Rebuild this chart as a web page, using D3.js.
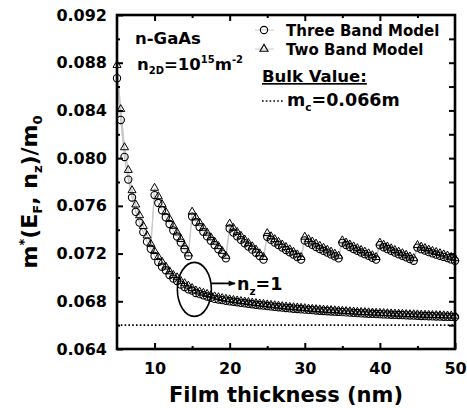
<!DOCTYPE html>
<html><head><meta charset="utf-8">
<script src="https://cdn.jsdelivr.net/npm/d3@7"></script>
<style>
html,body{margin:0;padding:0;background:#fff;}
svg{display:block;font-family:"DejaVu Sans",sans-serif;font-weight:bold;}
</style></head><body>
<svg id="chart" width="467" height="408"></svg>
<script>
// Film thickness grid (nm) for the n_z = 1 curve
const lowerThickness = [5,5.5,6,6.5,7,7.5,8,8.5,9,9.5,10,10.5,11,11.5,12,12.5,13,13.5,14,14.5,
  15,15.5,16,16.5,17,17.5,18,18.5,19,19.5,20,20.5,21,21.5,22,22.5,23,23.5,24,24.5,
  25,25.5,26,26.5,27,27.5,28,28.5,29,29.5,30,30.5,31,31.5,32,32.5,33,33.5,34,34.5,
  35,35.5,36,36.5,37,37.5,38,38.5,39,39.5,40,40.5,41,41.5,42,42.5,43,43.5,44,44.5,
  45,45.5,46,46.5,47,47.5,48,48.5,49,49.5,50];
// m*/m0, three band model, n_z = 1
const lowerThreeBand = [0.0867,0.0832,0.0801,0.0782,0.0767,0.0755,0.0746,0.0738,0.0730,0.0724,
  0.0718,0.0713,0.0709,0.0706,0.0702,0.0699,0.0697,0.0694,0.0692,0.0690,
  0.0689,0.0687,0.0686,0.0685,0.0684,0.0683,0.0682,0.06815,0.0681,0.06805,
  0.0680,0.06796,0.06792,0.06787,0.06783,0.06779,0.06775,0.06771,0.06767,0.06764,
  0.0676,0.06757,0.06753,0.0675,0.06747,0.06744,0.06741,0.06738,0.06736,0.06733,
  0.0673,0.06728,0.06726,0.06723,0.06721,0.06719,0.06717,0.06715,0.06713,0.06711,
  0.06709,0.06707,0.06705,0.06703,0.06701,0.06699,0.06698,0.06696,0.06695,0.06693,
  0.06692,0.0669,0.06689,0.06687,0.06686,0.06685,0.06684,0.06682,0.06681,0.0668,
  0.06679,0.06677,0.06676,0.06675,0.06674,0.06673,0.06672,0.06671,0.0667,0.06669,0.06668];
// m*/m0, two band model, n_z = 1
const lowerTwoBand = [0.0878,0.0841,0.0809,0.0790,0.0773,0.0761,0.0752,0.0743,0.0735,0.0728,
  0.0722,0.0717,0.0713,0.0709,0.0705,0.0702,0.0700,0.0697,0.0695,0.0693,
  0.0691,0.0689,0.0688,0.0687,0.0686,0.0685,0.0684,0.06833,0.06826,0.0682,
  0.06815,0.0681,0.06806,0.06801,0.06797,0.06793,0.06788,0.06784,0.0678,0.06777,
  0.06773,0.06769,0.06765,0.06762,0.06758,0.06755,0.06752,0.06749,0.06747,0.06744,
  0.06741,0.06738,0.06736,0.06733,0.06731,0.06729,0.06727,0.06725,0.06723,0.06721,
  0.06719,0.06717,0.06715,0.06713,0.06711,0.06709,0.06708,0.06706,0.06705,0.06703,
  0.06702,0.067,0.06699,0.06697,0.06696,0.06695,0.06694,0.06692,0.06691,0.0669,
  0.06689,0.06687,0.06686,0.06685,0.06684,0.06683,0.06682,0.06681,0.0668,0.06679,0.06678];

// Thickness grid of the upper (sawtooth) branches
const branchThickness = [
  [10,10.5,11,11.5,12,12.5,13,13.5,14,14.5],
  [15,15.5,16,16.5,17,17.5,18,18.5,19,19.5],
  [20,20.5,21,21.5,22,22.5,23,23.5,24,24.5],
  [25,25.5,26,26.5,27,27.5,28,28.5,29,29.5],
  [30,30.5,31,31.5,32,32.5,33,33.5,34,34.5],
  [35,35.5,36,36.5,37,37.5,38,38.5,39,39.5],
  [40,40.5,41,41.5,42,42.5,43,43.5,44,44.5],
  [45,45.5,46,46.5,47,47.5,48,48.5,49,49.5,50]];
const branchThreeBand = [
  [0.0769,0.07624,0.07563,0.07504,0.07448,0.07394,0.07343,0.07292,0.07236,0.0718],
  [0.0751,0.07465,0.07423,0.07382,0.07344,0.07307,0.07272,0.07237,0.07199,0.0716],
  [0.0741,0.07376,0.07345,0.07315,0.07287,0.07259,0.07233,0.07207,0.07179,0.0715],
  [0.0734,0.07315,0.07293,0.07271,0.0725,0.0723,0.07211,0.07192,0.07171,0.0715],
  [0.0731,0.07291,0.07273,0.07255,0.07239,0.07223,0.07208,0.07193,0.07177,0.0716],
  [0.0729,0.07272,0.07255,0.07239,0.07224,0.07209,0.07195,0.07181,0.07165,0.0715],
  [0.0727,0.07253,0.07238,0.07223,0.07208,0.07195,0.07182,0.07169,0.07154,0.0714],
  [0.0725,0.07237,0.07225,0.07213,0.07202,0.07192,0.07182,0.07172,0.07162,0.07151,0.0714]];
const branchTwoBand = [
  [0.0775,0.07679,0.07613,0.07549,0.07489,0.07431,0.07376,0.07321,0.07261,0.0720],
  [0.0755,0.07502,0.07458,0.07415,0.07374,0.07335,0.07298,0.07261,0.07221,0.0718],
  [0.0745,0.07414,0.0738,0.07348,0.07317,0.07288,0.0726,0.07232,0.07201,0.0717],
  [0.0737,0.07344,0.0732,0.07297,0.07275,0.07254,0.07234,0.07214,0.07192,0.0717],
  [0.0734,0.07319,0.073,0.07282,0.07264,0.07247,0.07231,0.07215,0.07198,0.0718],
  [0.0731,0.07292,0.07275,0.07259,0.07244,0.07229,0.07215,0.07201,0.07185,0.0717],
  [0.0729,0.07273,0.07258,0.07243,0.07228,0.07215,0.07202,0.07189,0.07174,0.0716],
  [0.0727,0.07257,0.07245,0.07233,0.07222,0.07212,0.07202,0.07192,0.07182,0.07171,0.0716]];

const bulkMass = 0.066;
const xTicks = [10,20,30,40,50];
const xMinorTicks = [15,25,35,45];
const yTicks = [0.064,0.068,0.072,0.076,0.080,0.084,0.088,0.092];
const yMinorTicks = [0.066,0.070,0.074,0.078,0.082,0.086,0.090];
const legendLabels = ["Three Band Model","Two Band Model"];

const svg = d3.select("#chart");
const L = 117, R = 455, T = 15, B = 349;
const x = d3.scaleLinear().domain([5,50]).range([L,R]);
const y = d3.scaleLinear().domain([0.064,0.092]).range([B,T]);

// connecting lines (thin gray), drawn beneath the markers
const line = d3.line().x(d => x(d[0])).y(d => y(d[1]));
const zipPts = (xs, ys) => xs.map((v,i) => [v, ys[i]]);
const lowerThree = zipPts(lowerThickness, lowerThreeBand);
const lowerTwo = zipPts(lowerThickness, lowerTwoBand);
const branchThree = branchThickness.map((xs,k) => zipPts(xs, branchThreeBand[k]));
const branchTwo = branchThickness.map((xs,k) => zipPts(xs, branchTwoBand[k]));
const upperThree = lowerThree.slice(0,10).concat(...branchThree);
const upperTwo = lowerTwo.slice(0,10).concat(...branchTwo);

const gLines = svg.append("g").attr("fill","none").attr("stroke","#c4c4c4").attr("stroke-width",0.9);
[lowerThree, lowerTwo, upperThree, upperTwo].forEach(p => gLines.append("path").attr("d", line(p)));

// bulk value reference
svg.append("line").attr("x1",x(5)).attr("x2",x(50)).attr("y1",y(bulkMass)).attr("y2",y(bulkMass))
  .attr("stroke","#000").attr("stroke-width",1.6).attr("stroke-dasharray","1.6,2.2");

// markers
const circ = d3.symbol().type(d3.symbolCircle).size(42);
const tri = d3.symbol().type(d3.symbolTriangle).size(28);
const allThree = lowerThree.concat(...branchThree);
const allTwo = lowerTwo.concat(...branchTwo);
svg.append("g").selectAll("path").data(allThree).join("path")
  .attr("d", circ).attr("transform", d => `translate(${x(d[0])},${y(d[1])})`)
  .attr("fill","none").attr("stroke","#000").attr("stroke-width",1.1);
svg.append("g").selectAll("path").data(allTwo).join("path")
  .attr("d", tri).attr("transform", d => `translate(${x(d[0])},${y(d[1])})`)
  .attr("fill","none").attr("stroke","#000").attr("stroke-width",1.0);

// axes with inward ticks
function styleAxis(g){
  g.select(".domain").remove();
  g.selectAll(".tick line").attr("stroke","#000").attr("stroke-width",2);
  g.selectAll("text").attr("fill","#000").attr("font-family","DejaVu Sans").attr("font-weight","bold");
}
svg.append("g").attr("transform",`translate(0,${B})`)
  .call(d3.axisBottom(x).tickValues(xTicks).tickSize(-6).tickPadding(14).tickFormat(d3.format("d")))
  .call(styleAxis).selectAll("text").attr("font-size",16);
svg.append("g").attr("transform",`translate(0,${B})`)
  .call(d3.axisBottom(x).tickValues(xMinorTicks).tickSize(-3).tickFormat("")).call(styleAxis);
svg.append("g").attr("transform",`translate(0,${T})`)
  .call(d3.axisTop(x).tickValues(xTicks.slice(0,4)).tickSize(-6).tickFormat("")).call(styleAxis);
svg.append("g").attr("transform",`translate(0,${T})`)
  .call(d3.axisTop(x).tickValues(xMinorTicks).tickSize(-3).tickFormat("")).call(styleAxis);
svg.append("g").attr("transform",`translate(${L},0)`)
  .call(d3.axisLeft(y).tickValues(yTicks).tickSize(-6).tickPadding(10).tickFormat(d3.format(".3f")))
  .call(styleAxis).selectAll("text").attr("font-size",16);
svg.append("g").attr("transform",`translate(${L},0)`)
  .call(d3.axisLeft(y).tickValues(yMinorTicks).tickSize(-3).tickFormat("")).call(styleAxis);
svg.append("g").attr("transform",`translate(${R},0)`)
  .call(d3.axisRight(y).tickValues(yTicks.slice(1,7).concat(yMinorTicks)).tickSize(-6).tickFormat("")).call(styleAxis);

// frame
svg.append("rect").attr("x",L).attr("y",T).attr("width",R-L).attr("height",B-T)
  .attr("fill","none").attr("stroke","#000").attr("stroke-width",2.6);

// axis titles
svg.append("text").attr("x",(L+R)/2).attr("y",402).attr("text-anchor","middle")
  .attr("font-size",21).text("Film thickness (nm)");
const yt = svg.append("text").attr("transform","translate(37,192) rotate(-90)").attr("text-anchor","middle").attr("font-size",22);
yt.append("tspan").text("m");
yt.append("tspan").attr("font-size",13).attr("dy",-9).text("*");
yt.append("tspan").attr("dy",9).text("(E");
yt.append("tspan").attr("font-size",13).attr("dy",5).text("F");
yt.append("tspan").attr("dy",-5).text(", n");
yt.append("tspan").attr("font-size",13).attr("dy",5).text("z");
yt.append("tspan").attr("dy",-5).text(")/m");
yt.append("tspan").attr("font-size",13).attr("dy",5).text("0");

// annotations
svg.append("text").attr("x",135).attr("y",44).attr("font-size",16.5).text("n-GaAs");
const nt = svg.append("text").attr("x",137).attr("y",70).attr("font-size",16.5);
nt.append("tspan").text("n");
nt.append("tspan").attr("font-size",10).attr("dy",4).text("2D");
nt.append("tspan").attr("dy",-4).text("=10");
nt.append("tspan").attr("font-size",10).attr("dy",-7).text("15");
nt.append("tspan").attr("dy",7).text("m");
nt.append("tspan").attr("font-size",10).attr("dy",-7).text("-2");

// legend
const lg = svg.append("g");
legendLabels.forEach((lab,i) => {
  const ly = 30 + i*19;
  lg.append("line").attr("x1",255).attr("x2",274).attr("y1",ly).attr("y2",ly).attr("stroke","#c4c4c4").attr("stroke-width",0.9);
  lg.append("path").attr("d", i===0 ? circ() : tri()).attr("transform",`translate(264,${ly})`)
    .attr("fill","none").attr("stroke","#000").attr("stroke-width",1.1);
  lg.append("text").attr("x",286).attr("y",ly+5.5).attr("font-size",15).text(lab);
});
svg.append("text").attr("x",262).attr("y",82).attr("font-size",16.5).attr("text-decoration","underline").text("Bulk Value:");
svg.append("line").attr("x1",262).attr("x2",284).attr("y1",101).attr("y2",101)
  .attr("stroke","#000").attr("stroke-width",1.6).attr("stroke-dasharray","1.6,2.2");
const mc = svg.append("text").attr("x",287).attr("y",106).attr("font-size",17.5);
mc.append("tspan").text("m");
mc.append("tspan").attr("font-size",10.5).attr("dy",5).text("c");
mc.append("tspan").attr("dy",-5).text("=0.066m");

// n_z = 1 marker: ellipse, arrow and label
svg.append("ellipse").attr("cx",x(15.3)).attr("cy",y(0.0690)).attr("rx",17).attr("ry",27)
  .attr("fill","none").attr("stroke","#000").attr("stroke-width",1.6);
svg.append("defs").append("marker").attr("id","ah").attr("viewBox","0 0 10 10").attr("refX",9).attr("refY",5)
  .attr("markerWidth",9).attr("markerHeight",7).attr("markerUnits","userSpaceOnUse").attr("orient","auto")
  .append("path").attr("d","M0,1L10,5L0,9Z").attr("fill","#000");
svg.append("line").attr("x1",x(15.3)+17).attr("x2",235).attr("y1",y(0.0695)).attr("y2",y(0.0695))
  .attr("stroke","#000").attr("stroke-width",1.8).attr("marker-end","url(#ah)");
const nz = svg.append("text").attr("x",237).attr("y",y(0.0695)+7).attr("font-size",17.5);
nz.append("tspan").text("n");
nz.append("tspan").attr("font-size",10.5).attr("dy",5).text("z");
nz.append("tspan").attr("dy",-5).text("=1");
</script></body></html>
